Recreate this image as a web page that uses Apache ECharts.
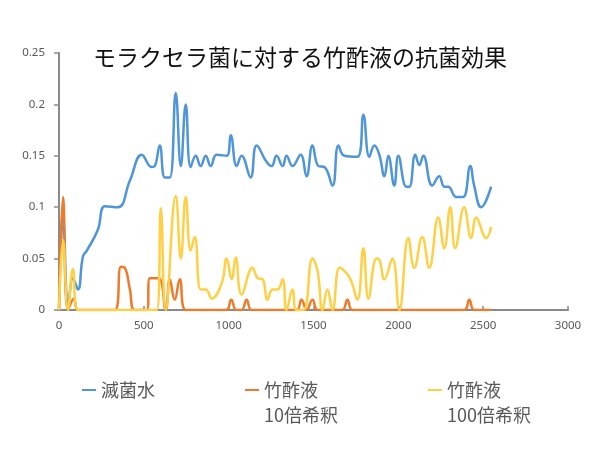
<!DOCTYPE html>
<html>
<head>
<meta charset="utf-8">
<script src="https://cdn.jsdelivr.net/npm/echarts@6/dist/echarts.min.js"></script>
<style>html,body{margin:0;padding:0;background:#fff}#c{width:600px;height:450px}</style>
</head>
<body>
<div id="c"></div>
<script>
var titleText = 'モラクセラ菌に対する竹酢液の抗菌効果';
var seriesNames = ['滅菌水', '竹酢液\n10倍希釈', '竹酢液\n100倍希釈'];
var xTicks = [0, 500, 1000, 1500, 2000, 2500, 3000];
var yTicks = [0, 0.05, 0.1, 0.15, 0.2, 0.25];

var sterileWater = [
  [0,0],[24,0.09],[55,0.005],[82,0.031],[112,0.02],[141,0.052],[165,0.058],[229,0.078],[271,0.101],
  [347,0.1],[418,0.126],[488,0.151],[547,0.139],[565,0.14],[594,0.16],[624,0.129],[653,0.129],
  [688,0.211],[718,0.14],[747,0.2],[776,0.139],[806,0.15],[835,0.14],[865,0.15],[894,0.14],
  [929,0.151],[988,0.15],[1012,0.17],[1047,0.14],[1076,0.15],[1129,0.129],[1165,0.16],[1224,0.144],
  [1253,0.14],[1282,0.15],[1318,0.14],[1341,0.15],[1376,0.14],[1424,0.151],[1459,0.13],[1494,0.16],
  [1529,0.14],[1565,0.139],[1612,0.121],[1647,0.16],[1682,0.15],[1759,0.149],[1794,0.19],[1829,0.149],
  [1859,0.16],[1888,0.151],[1918,0.13],[1941,0.15],[1976,0.121],[2000,0.15],[2047,0.12],[2065,0.12],
  [2100,0.151],[2124,0.141],[2147,0.15],[2200,0.121],[2241,0.13],[2271,0.12],[2294,0.12],[2341,0.11],
  [2382,0.11],[2424,0.14],[2447,0.121],[2488,0.1],[2547,0.12]
];

var vinegar10 = [
  [0,0],[24,0.11],[53,0],[88,0.011],[112,0],[200,0],[329,0],[365,0.042],[388,0.041],[418,0.02],[447,0],
  [518,0],[535,0.031],[588,0.031],[629,0],[653,0.03],[682,0.01],[712,0.03],[747,0],[850,0],
  [985,0],[1015,0.01],[1045,0],[1076,0],[1106,0.01],[1136,0],[1250,0],[1400,0],[1429,0.01],
  [1460,0],[1494,0.01],[1525,0],[1600,0],[1670,0],[1700,0.01],[1730,0],[1900,0],[2100,0],
  [2388,0],[2418,0.01],[2448,0],[2547,0]
];

var vinegar100 = [
  [0,0],[24,0.068],[53,0],[82,0.04],[112,0],[200,0],[350,0],[500,0],[576,0],[600,0.099],[629,0],
  [688,0.111],[718,0.05],[747,0.11],[776,0.058],[800,0.071],[835,0.02],[865,0.02],[900,0.011],
  [959,0.026],[988,0.05],[1018,0.03],[1041,0.051],[1076,0.015],[1141,0.041],[1171,0.031],[1200,0.03],
  [1229,0.01],[1259,0.02],[1288,0.02],[1318,0.03],[1341,0],[1376,0.02],[1400,0],[1441,0],[1494,0.05],
  [1524,0.038],[1553,0],[1582,0.02],[1612,0],[1653,0.041],[1682,0.038],[1718,0.03],[1759,0.01],
  [1794,0.06],[1824,0.011],[1871,0.05],[1888,0.049],[1918,0.03],[1965,0.05],[2006,0],[2059,0.07],
  [2094,0.041],[2141,0.071],[2182,0.041],[2235,0.09],[2271,0.06],[2306,0.1],[2335,0.06],[2388,0.1],
  [2429,0.07],[2459,0.09],[2518,0.07],[2547,0.081]
];

var colors = ['#4E95D9', '#EE7A2C', '#FFCF44'];
var seriesData = [sterileWater, vinegar10, vinegar100];

var chart = echarts.init(document.getElementById('c'), null, {renderer: 'canvas'});
var axisColor = '#8a8a8a';
var labelColor = '#595959';
var fontFam = '"Noto Sans", "Noto Sans CJK JP", sans-serif';

function legendFor(i, left, top, twoLine) {
  return {
    left: left, top: top, padding: 0, orient: 'horizontal',
    icon: 'rect', itemWidth: 14, itemHeight: 2,
    data: [seriesNames[i]],
    formatter: function (name) { return twoLine ? '\n' + name : name; },
    textStyle: {fontSize: 18, color: labelColor, lineHeight: 25, fontFamily: '"Noto Sans CJK JP", sans-serif'},
    selectedMode: false
  };
}

chart.setOption({
  animation: false,
  color: colors,
  title: {
    text: titleText, left: 'center', top: 41,
    textStyle: {fontSize: 23, fontWeight: 'normal', color: '#111', fontFamily: '"Noto Sans CJK JP", sans-serif'}
  },
  legend: [
    legendFor(0, 82, 377.5, false),
    legendFor(1, 245, 352.5, true),
    legendFor(2, 428, 352.5, true)
  ],
  grid: {left: 59, right: 32, top: 53, bottom: 140, containLabel: false},
  xAxis: {
    type: 'value', min: xTicks[0], max: xTicks[xTicks.length - 1], interval: 500,
    axisLine: {show: true, lineStyle: {color: axisColor, width: 2}},
    axisTick: {show: true, inside: true, length: 4, lineStyle: {color: axisColor, width: 1.5}},
    axisLabel: {margin: 10, fontSize: 11.5, color: labelColor, fontFamily: fontFam,
      formatter: function (v) { return String(v); }},
    splitLine: {show: false}
  },
  yAxis: {
    type: 'value', min: yTicks[0], max: yTicks[yTicks.length - 1], interval: 0.05,
    axisLine: {show: true, lineStyle: {color: axisColor, width: 2}},
    axisTick: {show: true, inside: false, length: 5, lineStyle: {color: axisColor, width: 1.5}},
    axisLabel: {margin: 14, fontSize: 11.5, color: labelColor, fontFamily: fontFam,
      formatter: function (v) { return String(Math.round(v * 100) / 100); }},
    splitLine: {show: false}
  },
  series: seriesData.map(function (d, i) {
    return {
      name: seriesNames[i], type: 'line', data: d, smooth: 0.45,
      showSymbol: false, symbol: 'none', clip: true,
      lineStyle: {width: 2.5, color: colors[i]}
    };
  })
});
</script>
</body>
</html>
